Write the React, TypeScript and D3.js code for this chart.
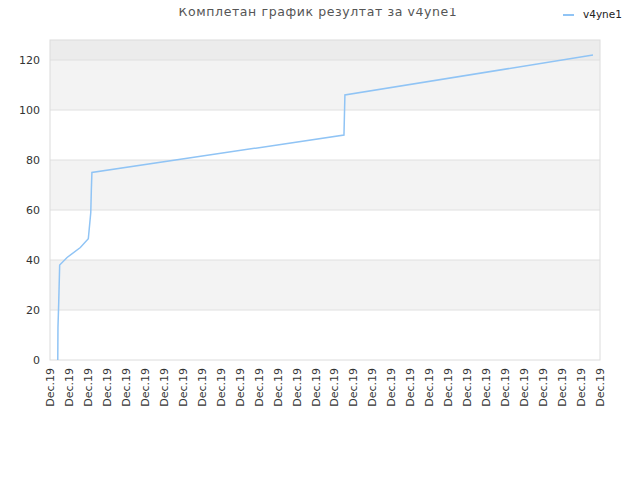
import React from "react";
import * as d3 from "d3";

// x positions in tick units (0..29)
const pointX = [0.41, 0.42, 0.46, 0.51, 0.9, 1.6, 2.02, 2.15, 2.18, 2.21, 15.5, 15.55, 28.63];
const pointY = [0, 13, 23, 38, 41, 45, 48.5, 59, 68, 75, 90, 106, 122];
const tickLabels = Array.from({ length: 30 }, () => "Dec.19");
const yTicks = [0, 20, 40, 60, 80, 100, 120];
const title = "Комплетан график резултат за v4yne1";
const seriesName = "v4yne1";

const W = 640, H = 480;
const margin = { top: 40, right: 40, bottom: 120, left: 50 };

export default function App() {
  const x = d3.scaleLinear().domain([0, 29]).range([margin.left, W - margin.right]);
  const y = d3.scaleLinear().domain([0, 128]).range([H - margin.bottom, margin.top]);
  const pts = pointX.map((v, i) => [v, pointY[i]] as [number, number]);
  const line = d3.line<[number, number]>().x(d => x(d[0])).y(d => y(d[1]));

  const bands = [20, 60, 100];
  const font = "DejaVu Sans, sans-serif";

  return (
    <svg width={W} height={H} style={{ display: "block", margin: -8 }} fontFamily={font}>
      <rect width={W} height={H} fill="#fff" />
      <text x={318} y={16} textAnchor="middle" fontSize={12.5} fill="#555" letterSpacing={0.6}>{title}</text>
      <line x1={563} x2={574} y1={15} y2={15} stroke="#90c4f5" strokeWidth={2} />
      <text x={583} y={18} fontSize={10.5} fill="#222">{seriesName}</text>

      {bands.map(b => (
        <rect key={b} x={x(0)} width={x(29) - x(0)} y={y(b + 20)} height={y(b) - y(b + 20)} fill="#f3f3f3" />
      ))}
      <rect x={x(0)} width={x(29) - x(0)} y={y(128)} height={y(120) - y(128)} fill="#ececec" />
      {yTicks.slice(1).map(t => (
        <line key={t} x1={x(0)} x2={x(29)} y1={y(t)} y2={y(t)} stroke="#e0e0e0" />
      ))}
      <rect x={x(0)} y={y(128)} width={x(29) - x(0)} height={y(0) - y(128)} fill="none" stroke="#dcdcdc" />

      {yTicks.map(t => (
        <text key={t} x={40} y={y(t) + 4} textAnchor="end" fontSize={11} fill="#333">{t}</text>
      ))}
      {tickLabels.map((l, i) => (
        <text key={i} transform={`translate(${x(i) + 4},${H - margin.bottom + 8}) rotate(-90)`} textAnchor="end" fontSize={11} fill="#333">{l}</text>
      ))}

      <path d={line(pts) ?? ""} fill="none" stroke="#90c4f5" strokeWidth={1.5} />
    </svg>
  );
}
